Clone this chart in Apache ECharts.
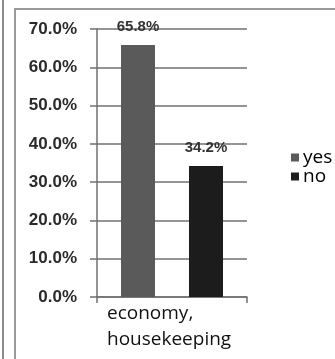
<!DOCTYPE html>
<html>
<head>
<meta charset="utf-8">
<script src="https://cdn.jsdelivr.net/npm/echarts@6/dist/echarts.min.js"></script>
<style>html,body{margin:0;padding:0;background:#fff;}#c{width:335px;height:359px;}</style>
</head>
<body>
<div id="c"></div>
<script>
var categories = ['economy,\nhousekeeping'];
var seriesNames = ['yes', 'no'];
var yesValues = [65.8];
var noValues = [34.2];
var yMin = 0, yMax = 70, yInterval = 10;
var seriesColors = ['#5a5a5a', '#1c1c1c'];

var chart = echarts.init(document.getElementById('c'));
var labelStyle = {
  show: true, position: 'top', distance: 11,
  fontFamily: 'Liberation Sans Narrow, Liberation Sans', fontWeight: 'bold', fontSize: 15, color: '#333',
  formatter: function (p) { return p.value.toFixed(1) + '%'; }
};
chart.setOption({
  animation: false,
  graphic: [
    { type: 'rect', shape: { x: 2, y: 0, width: 2, height: 359 }, style: { fill: '#8a8a8a' } },
    { type: 'rect', shape: { x: 14, y: 8, width: 2, height: 351 }, style: { fill: '#9a9a9a' } },
    { type: 'rect', shape: { x: 14, y: 8, width: 321, height: 2 }, style: { fill: '#9a9a9a' } }
  ],
  grid: { left: 97, right: 88, top: 29, bottom: 62 },
  legend: {
    orient: 'vertical', left: 286, top: 143, itemWidth: 8, itemHeight: 8, itemGap: 0,
    icon: 'rect',
    textStyle: { fontFamily: 'Open Sans', fontSize: 19, color: '#000', padding: [0, 0, 0, -1] },
    data: seriesNames
  },
  xAxis: {
    type: 'category', data: categories,
    axisLine: { lineStyle: { color: '#707070', width: 1.5 } },
    axisTick: { show: true, length: 6, lineStyle: { color: '#707070', width: 1.5 } },
    axisLabel: {
      margin: 4,
      formatter: function (v) {
        return v.split('\n').map(function (s) { return '{a|' + s + '}'; }).join('\n');
      },
      rich: { a: { fontFamily: 'Open Sans', fontSize: 19, lineHeight: 26, color: '#111', width: 130, align: 'left' } }
    }
  },
  yAxis: {
    type: 'value', min: yMin, max: yMax, interval: yInterval,
    axisLine: { show: true, lineStyle: { color: '#707070', width: 1.5 } },
    axisTick: { show: true, length: 7, lineStyle: { color: '#707070', width: 1.5 } },
    splitLine: { lineStyle: { color: '#707070', width: 1.5 } },
    axisLabel: {
      fontFamily: 'Liberation Sans Narrow, Liberation Sans', fontWeight: 'bold', fontSize: 17, color: '#2a2a2a', margin: 20,
      formatter: function (v) { return v.toFixed(1) + '%'; }
    }
  },
  series: [
    { name: seriesNames[0], type: 'bar', data: yesValues, barWidth: 34, barGap: '100%',
      itemStyle: { color: seriesColors[0] }, label: labelStyle },
    { name: seriesNames[1], type: 'bar', data: noValues, barWidth: 34,
      itemStyle: { color: seriesColors[1] }, label: labelStyle }
  ]
});
</script>
</body>
</html>
